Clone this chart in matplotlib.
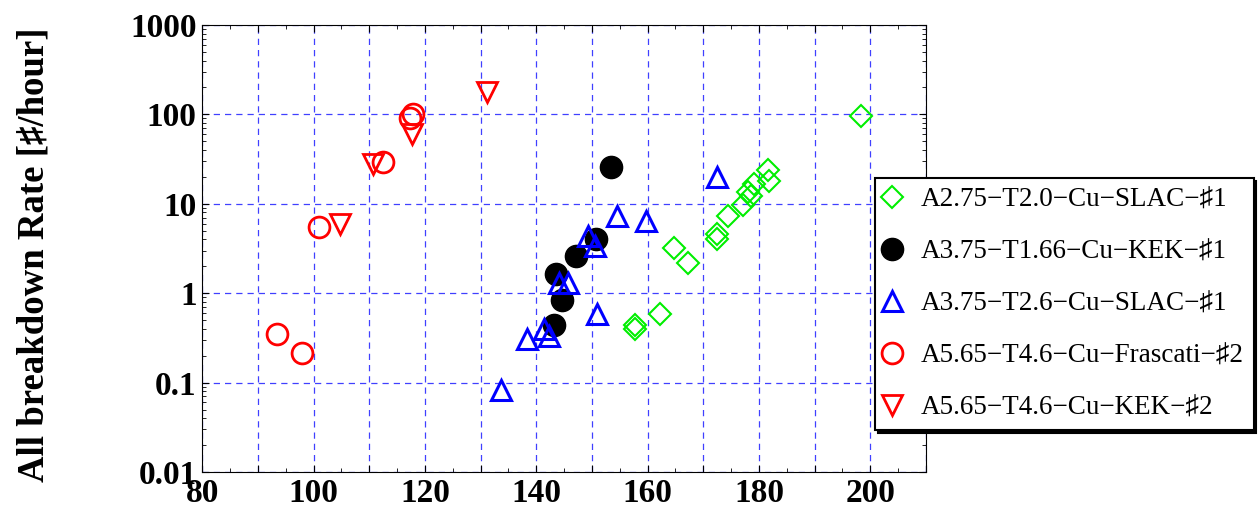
import numpy as np
from matplotlib import pyplot as plt
from matplotlib.ticker import MultipleLocator, FixedLocator, FuncFormatter, LogLocator, NullFormatter

plt.rcParams['font.family'] = ['Liberation Serif', 'DejaVu Serif']

# A2.75-T2.0-Cu-SLAC-#1
slac275_x = [198.3, 181.6, 181.8, 179.1, 178.1, 178.5, 177.1, 174.5, 172.4, 172.4, 164.7, 167.3, 162.3, 157.7, 157.7]
slac275_y = [97, 24, 18, 16.5, 13.5, 12.3, 9.6, 7.3, 4.6, 4.0, 3.2, 2.2, 0.58, 0.44, 0.40]

# A3.75-T1.66-Cu-KEK-#1
kek375_x = [153.5, 150.8, 147.1, 143.5, 144.6, 143.2]
kek375_y = [26, 4.0, 2.6, 1.65, 0.83, 0.44]

# A3.75-T2.6-Cu-SLAC-#1
slac375_x = [172.4, 154.5, 159.7, 149.3, 150.5, 144.1, 145.7, 150.9, 141.4, 142.2, 138.4, 133.7]
slac375_y = [20, 7.3, 6.4, 4.4, 3.4, 1.3, 1.3, 0.59, 0.40, 0.33, 0.31, 0.082]

# A5.65-T4.6-Cu-Frascati-#2
fra565_x = [117.8, 117.3, 112.4, 101.0, 93.4, 97.9]
fra565_y = [102, 92, 29, 5.5, 0.35, 0.215]

# A5.65-T4.6-Cu-KEK-#2
kek565_x = [131.1, 117.6, 110.7, 104.7]
kek565_y = [180, 60, 28, 5.9]

labels = ['A2.75\u2212T2.0\u2212Cu\u2212SLAC\u2212\u266f1',
          'A3.75\u2212T1.66\u2212Cu\u2212KEK\u2212\u266f1',
          'A3.75\u2212T2.6\u2212Cu\u2212SLAC\u2212\u266f1',
          'A5.65\u2212T4.6\u2212Cu\u2212Frascati\u2212\u266f2',
          'A5.65\u2212T4.6\u2212Cu\u2212KEK\u2212\u266f2']

fig = plt.figure(figsize=(12.58, 5.12), dpi=100)
ax = fig.add_axes([202.3/1258, 1 - 472/512, (926-202.3)/1258, (472-25)/512])

ax.plot(slac275_x, slac275_y, 'D', ms=11, mfc='none', mec='#00ee00', mew=1.5, label=labels[0], zorder=3)
ax.plot(kek375_x, kek375_y, 'o', ms=16, mfc='black', mec='black', label=labels[1], zorder=3)
ax.plot(slac375_x, slac375_y, '^', ms=14, mfc='none', mec='blue', mew=2.2, label=labels[2], zorder=3)
ax.plot(fra565_x, fra565_y, 'o', ms=15, mfc='none', mec='red', mew=2, label=labels[3], zorder=3)
ax.plot(kek565_x, kek565_y, 'v', ms=14, mfc='none', mec='red', mew=2, label=labels[4], zorder=3)

ax.set_yscale('log')
ax.set_xlim(80, 210)
ax.set_ylim(0.01, 1000)

ax.xaxis.set_major_locator(MultipleLocator(10))
ax.xaxis.set_minor_locator(MultipleLocator(5))
ax.xaxis.set_major_formatter(FuncFormatter(lambda v, p: '%d' % v if v % 20 == 0 else ''))
ax.yaxis.set_major_locator(FixedLocator([0.01, 0.1, 1, 10, 100, 1000]))
ax.yaxis.set_major_formatter(FuncFormatter(lambda v, p: '%g' % v))
ax.yaxis.set_minor_locator(LogLocator(base=10, subs=np.arange(2, 10), numticks=20))
ax.yaxis.set_minor_formatter(NullFormatter())

ax.tick_params(which='both', direction='in', top=True, right=True)
ax.tick_params(which='major', length=5, pad=4)
ax.tick_params(which='minor', length=3)
for lab in ax.get_xticklabels() + ax.get_yticklabels():
    lab.set_fontsize(24)
    lab.set_fontweight('bold')

ax.grid(True, which='major', color='blue', alpha=0.75, linestyle=(0, (5, 4)), linewidth=0.9)
for s in ax.spines.values():
    s.set_linewidth(0.8)

ax.set_ylabel('All breakdown Rate [\u266f/hour]', fontsize=26.5, fontweight='bold')
ax.yaxis.set_label_coords((51 - 202.3) / 723.7, 0.487)

leg = ax.legend(loc='upper left', bbox_to_anchor=(875/1258, 1 - 178/512), bbox_transform=fig.transFigure,
                fontsize=19.5, frameon=True, fancybox=False, edgecolor='black', framealpha=1,
                shadow={'color': 'black', 'alpha': 1}, borderaxespad=0, borderpad=0.35,
                handlelength=0.55, handletextpad=0.8, labelspacing=1.0)
leg.get_frame().set_linewidth(1.5)

fig.savefig('out.png', dpi=100)
